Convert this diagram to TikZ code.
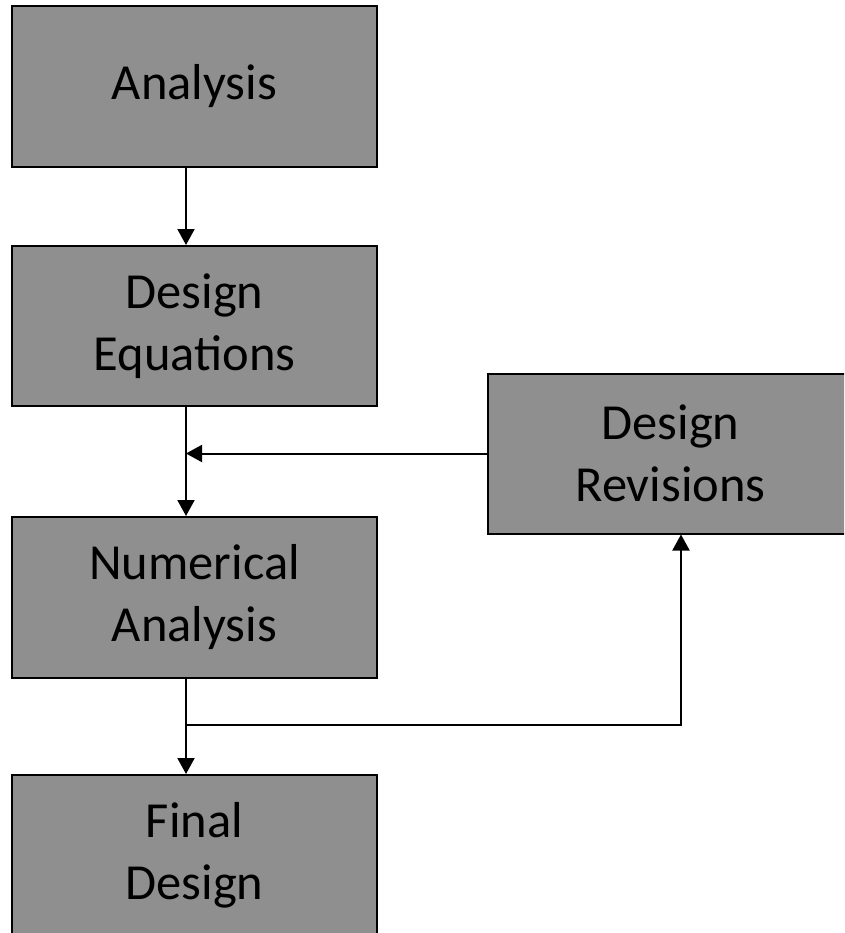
\documentclass[tikz,border=0pt]{standalone}
\usepackage{fontspec}
\setmainfont{Carlito}
\usetikzlibrary{arrows.meta,calc}
\definecolor{boxgray}{gray}{0.56}
\tikzset{
  flowbox/.style={draw=black, line width=2pt, fill=boxgray, rectangle,
    minimum width=365pt, minimum height=160pt, inner sep=0pt,
    align=center, font=\fontsize{50.5}{62}\selectfont, text=black},
  flowline/.style={line width=2pt, draw=black},
  flowarrow/.style={flowline, -{Triangle[width=17pt,length=16pt]}}
}
\begin{document}
\begin{tikzpicture}[x=1pt,y=-1pt]
  \useasboundingbox (0,0) rectangle (844,933);
  \clip (0,0) rectangle (844,933);
  \fill[white] (0,0) rectangle (844,933);

  % process boxes
  \node[flowbox, minimum height=161pt] (ana) at (194.5,86.5) {Analysis};
  \node[flowbox] (deq) at (194.5,326) {Design\\Equations};
  \node[flowbox, minimum height=161pt] (num) at (194.5,597.5) {Numerical\\Analysis};
  \node[flowbox] (fin) at (194.5,855) {Final\\Design};
  \node[flowbox] (rev) at (670.5,453.5) {Design\\Revisions};

  % main column and feedback junctions
  \coordinate (col) at (186,0);
  \coordinate (jn) at (186,725);
  \coordinate (rx) at (681,725);

  \draw[flowarrow] (col |- ana.south) -- (col |- deq.north);
  \draw[flowarrow] (col |- deq.south) -- (col |- num.north);
  \draw[flowarrow] (rev.west) -- (col |- rev.west);
  \draw[flowarrow] (col |- num.south) -- (col |- fin.north);
  \draw[flowarrow] (jn) -- (rx) -- (rx |- rev.south);
\end{tikzpicture}
\end{document}
